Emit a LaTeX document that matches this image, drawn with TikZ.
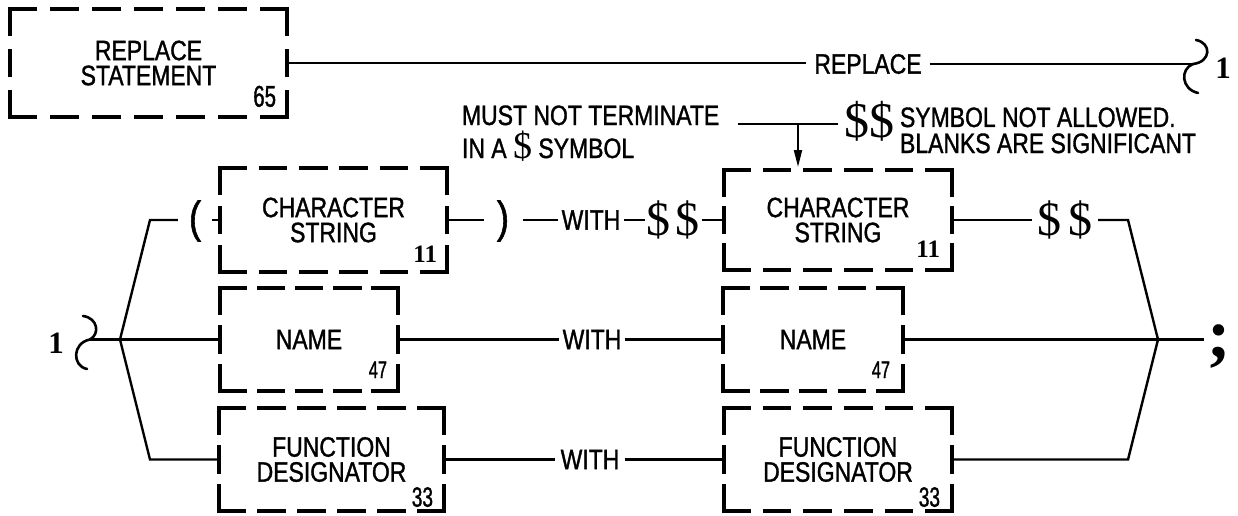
\documentclass[tikz,border=0pt]{standalone}
\usepackage{fontspec}
\setmainfont{Liberation Sans}[FakeStretch=0.82,FakeBold=1.2]
\newfontfamily\numfont{Liberation Sans}[FakeStretch=0.68,FakeBold=1.2]
\newfontfamily\serfont{Liberation Serif}
\usetikzlibrary{arrows.meta,calc}

% one dashed side from (#1,#2) to (#3,#4), starting and ending with a dash
\newcommand\dside[4]{%
  \pgfmathsetmacro\dsL{veclen((#3)-(#1),(#4)-(#2))}%
  \pgfmathsetmacro\dsN{max(2,round((\dsL+15)/40))}%
  \pgfmathsetmacro\dsOff{(\dsL-25*\dsN)/(\dsN-1)}%
  \draw[boxline,dash pattern=on 25pt off \dsOff pt] (#1,#2) -- (#3,#4);}

% named box node #1 with corners (#2,#3) (#4,#5), text node #1-t with text #6
\newcommand\mkbox[6]{%
  \pgfmathsetmacro\mbW{(#4)-(#2)}%
  \pgfmathsetmacro\mbH{(#5)-(#3)}%
  \pgfmathsetmacro\mbX{((#2)+(#4))/2}%
  \pgfmathsetmacro\mbY{((#3)+(#5))/2}%
  \node[boxframe,minimum width=\mbW pt,minimum height=\mbH pt] (#1) at (\mbX,\mbY) {};%
  \node[boxtext] (#1-t) at (#1.center) {#6};%
  \dside{#2}{#3}{#4}{#3}\dside{#4}{#3}{#4}{#5}\dside{#4}{#5}{#2}{#5}\dside{#2}{#5}{#2}{#3}}

\begin{document}
\begin{tikzpicture}[x=1pt,y=-1pt,
  boxline/.style={line width=3.5pt,line cap=rect},
  conn/.style={line width=2.4pt},
  arcline/.style={line width=2.6pt,line cap=round},
  boxframe/.style={inner sep=0pt,outer sep=0pt},
  boxtext/.style={align=center,inner sep=0pt,outer sep=0pt,font=\fontsize{28}{25}\selectfont},
  word/.style={inner ysep=0pt,outer sep=0pt,font=\fontsize{28}{25}\selectfont},
  note/.style={inner sep=0pt,outer sep=0pt,anchor=base west,font=\fontsize{28}{25}\selectfont},
  num/.style={inner sep=0pt,outer sep=0pt,anchor=south east},
  dollar/.style={inner ysep=0pt,outer sep=0pt,font=\serfont\fontsize{48}{48}\selectfont},
  paren/.style={inner ysep=0pt,outer sep=0pt,font=\fontsize{44}{44}\selectfont},
  onelbl/.style={inner sep=0pt,font=\serfont\bfseries\fontsize{31}{31}\selectfont},
]
\useasboundingbox (0,0) rectangle (1238,516);

% boxes
\mkbox{rs}{10}{9}{287}{117}{REPLACE\\STATEMENT}
\mkbox{csa}{220}{168}{447}{272}{CHARACTER\\STRING}
\mkbox{csb}{724}{170}{952}{270}{CHARACTER\\STRING}
\mkbox{nma}{220}{288}{398}{391}{NAME}
\mkbox{nmb}{723}{288}{903}{391}{NAME}
\mkbox{fda}{219}{408}{444}{511}{FUNCTION\\DESIGNATOR}
\mkbox{fdb}{724}{408}{952}{511}{FUNCTION\\DESIGNATOR}

% reference numbers
\node[num,font=\numfont\fontsize{30}{30}\selectfont] (n65) at ($(rs.south east)+(-11,-10)$) {65};
\node[num,font=\serfont\bfseries\fontsize{25}{25}\selectfont] (n11a) at ($(csa.south east)+(-10,-10)$) {11};
\node[num,font=\serfont\bfseries\fontsize{25}{25}\selectfont] (n11b) at ($(csb.south east)+(-12,-13)$) {11};
\node[num,font=\numfont\fontsize{24}{24}\selectfont] (n47a) at ($(nma.south east)+(-11,-13)$) {47};
\node[num,font=\numfont\fontsize{24}{24}\selectfont] (n47b) at ($(nmb.south east)+(-13,-13)$) {47};
\node[num,font=\numfont\fontsize{28}{28}\selectfont] (n33a) at ($(fda.south east)+(-11,-4)$) {33};
\node[num,font=\numfont\fontsize{28}{28}\selectfont] (n33b) at ($(fdb.south east)+(-12,-4)$) {33};

% words and symbols on the lines
\node[word,inner xsep=8pt] (rep) at (868,64) {REPLACE};
\node[onelbl] (oner) at (1223,68) {1};
\node[onelbl] (onel) at (56,343) {1};
\node[paren,inner xsep=11pt] (lpar) at (195,221) {(};
\node[paren,inner xsep=13.5pt] (rpar) at (503,221) {)};
\node[word,inner xsep=4pt] (wa) at (591,220) {WITH};
\node[dollar,inner xsep=2pt] (da) at (673,220) {\$\hspace{5pt}\$};
\node[dollar,inner xsep=5pt] (db) at (1065,220) {\$\hspace{8pt}\$};
\node[word,inner xsep=4pt] (wb) at (592,339.5) {WITH};
\node[word,inner xsep=6pt] (wc) at (590,459.5) {WITH};
\node[inner sep=0pt,inner xsep=3pt,font=\serfont\bfseries\fontsize{70}{70}\selectfont] (semi) at (1219,347) {;};

% annotations
\node[note] (mus1) at (462,125) {MUST NOT TERMINATE};
\node[note] (mus2) at (462,158) {IN A {\serfont\fontsize{38}{38}\selectfont\$} SYMBOL};
\node[dollar,font=\serfont\fontsize{50}{50}\selectfont,inner xsep=6pt] (dn) at (869,121) {\$\$};
\node[note] (syma) at (900,127) {SYMBOL NOT ALLOWED.};
\node[note] (symb) at (900,153) {BLANKS ARE SIGNIFICANT};
\coordinate (la) at (738,124);
\coordinate (ar) at (798,124);
\draw[conn] (la) -- (la -| dn.west);
\draw[line width=2pt,-{Triangle[length=17pt,width=8pt]}] (ar) -- ($(ar |- csb.north)+(0,-3)$);

% junction / continuation coordinates
\coordinate (cr) at (1193,64);
\coordinate (cl) at (90,339.5);
\coordinate (jl) at (120,339.5);
\coordinate (jr) at (1158,339.5);
\coordinate (b1) at (150,220);
\coordinate (b4) at (150,459.5);
\coordinate (b2) at (1128,220);
\coordinate (b3) at (1128,459.5);

% continuation marks
\draw[arcline] (83,316) .. controls (98,318) and (100,334) .. (cl);
\draw[arcline] (cl) .. controls (72,343) and (72,366) .. (87,369);
\draw[arcline] (1196,40) .. controls (1212,43) and (1211,62) .. (cr);
\draw[arcline] (cr) .. controls (1180,69) and (1181,89) .. (1198,93);

% connectors
\draw[conn] (rs.east) -- (rs.east -| rep.west);
\draw[conn] (rep.east) -- (cr);
\draw[conn] (cl) -- (nma.west);
\draw[conn] (jl) -- (b1) -- (b1 -| lpar.west);
\draw[conn] (lpar.east |- csa.west) -- (csa.west);
\draw[conn] (jl) -- (b4) -- (fda.west);
\draw[conn] (csa.east) -- (csa.east -| rpar.west);
\draw[conn] (csa.east -| rpar.east) -- (wa.west);
\draw[conn] (wa.east) -- (da.west);
\draw[conn] (da.east) -- (csb.west);
\draw[conn] (csb.east) -- (db.west);
\draw[conn] (db.east) -- (b2) -- (jr);
\draw[conn] (nma.east) -- (wb.west);
\draw[conn] (wb.east) -- (nmb.west);
\draw[conn] (nmb.east) -- (nmb.east -| semi.west);
\draw[conn] (fda.east) -- (wc.west);
\draw[conn] (wc.east) -- (fdb.west);
\draw[conn] (fdb.east) -- (b3) -- (jr);
\end{tikzpicture}
\end{document}
